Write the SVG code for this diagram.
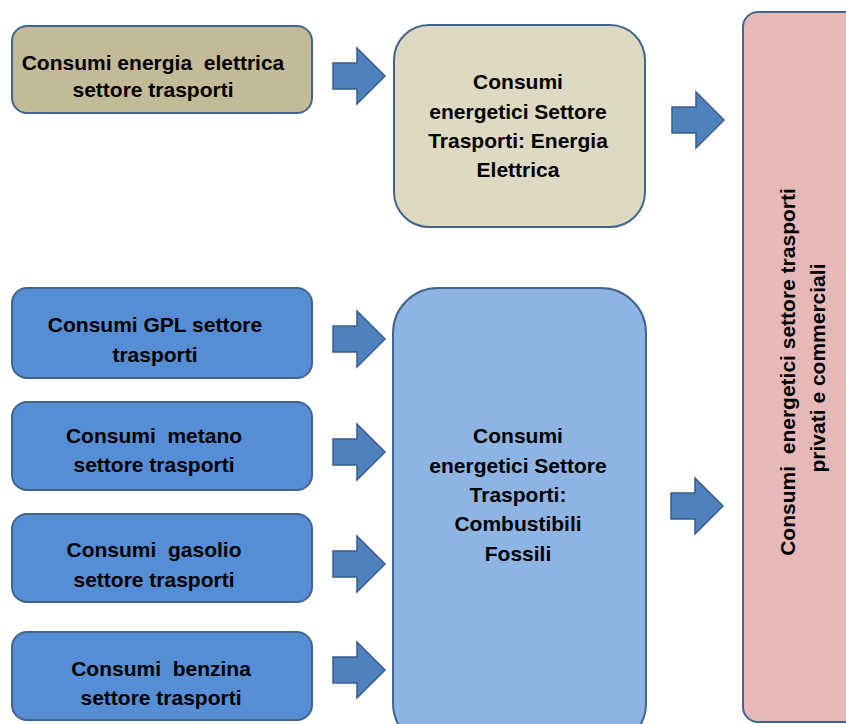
<svg xmlns="http://www.w3.org/2000/svg" width="846" height="724" viewBox="0 0 846 724">
<style>
.box{stroke:#41658F;stroke-width:2}
.t{font-family:"Liberation Sans",Arial,sans-serif;font-weight:bold;font-size:21px;fill:#000;text-anchor:middle;white-space:pre}
.arr{fill:#4F81BD;stroke:#385D8A;stroke-width:1.5}
</style>
<defs>
<path id="arrow" class="arr" d="M0,-13 L24,-13 L24,-28 L52,0 L24,28 L24,13 L0,13 Z"/>
</defs>
<rect width="846" height="724" fill="#fff"/>
<g id="connectors">
<use href="#arrow" x="333" y="76"/>
<use href="#arrow" x="672" y="120"/>
<use href="#arrow" x="333" y="339"/>
<use href="#arrow" x="333" y="452"/>
<use href="#arrow" x="333" y="564"/>
<use href="#arrow" x="333" y="670"/>
<use href="#arrow" x="671" y="506"/>
</g>
<g id="n_el_input">
<rect class="box" x="12" y="26" width="300" height="87" rx="15" fill="#C3BB98"/>
<text class="t" x="153" y="70" xml:space="preserve">Consumi energia  elettrica</text>
<text class="t" x="153" y="97">settore trasporti</text>
</g>
<g id="n_el">
<rect class="box" x="394" y="25" width="251" height="202" rx="35" fill="#DDD9C3"/>
<text class="t" x="518" y="89">Consumi</text>
<text class="t" x="518" y="119">energetici Settore</text>
<text class="t" x="518" y="148">Trasporti: Energia</text>
<text class="t" x="518" y="177">Elettrica</text>
</g>
<g id="n_gpl">
<rect class="box" x="12" y="288" width="300" height="90" rx="15" fill="#558ED5"/>
<text class="t" x="155" y="332">Consumi GPL settore</text>
<text class="t" x="155" y="362">trasporti</text>
</g>
<g id="n_metano">
<rect class="box" x="12" y="402" width="300" height="88" rx="15" fill="#558ED5"/>
<text class="t" x="154" y="443" xml:space="preserve">Consumi  metano</text>
<text class="t" x="154" y="472">settore trasporti</text>
</g>
<g id="n_gasolio">
<rect class="box" x="12" y="514" width="300" height="88" rx="15" fill="#558ED5"/>
<text class="t" x="154" y="557" xml:space="preserve">Consumi  gasolio</text>
<text class="t" x="154" y="587">settore trasporti</text>
</g>
<g id="n_benzina">
<rect class="box" x="12" y="632" width="300" height="88" rx="15" fill="#558ED5"/>
<text class="t" x="161" y="676" xml:space="preserve">Consumi  benzina</text>
<text class="t" x="161" y="705">settore trasporti</text>
</g>
<g id="n_fossili">
<rect class="box" x="393" y="288" width="253" height="460" rx="45" fill="#8EB4E3"/>
<text class="t" x="518" y="443">Consumi</text>
<text class="t" x="518" y="473">energetici Settore</text>
<text class="t" x="518" y="502">Trasporti:</text>
<text class="t" x="518" y="531">Combustibili</text>
<text class="t" x="518" y="561">Fossili</text>
</g>
<g id="n_totale">
<rect class="box" x="743" y="12" width="130" height="710" rx="15" fill="#E6B9B8"/>
<text class="t" transform="translate(795,372) rotate(-90)" xml:space="preserve">Consumi  energetici settore trasporti</text>
<text class="t" transform="translate(825,368) rotate(-90)">privati e commerciali</text>
</g>
</svg>
